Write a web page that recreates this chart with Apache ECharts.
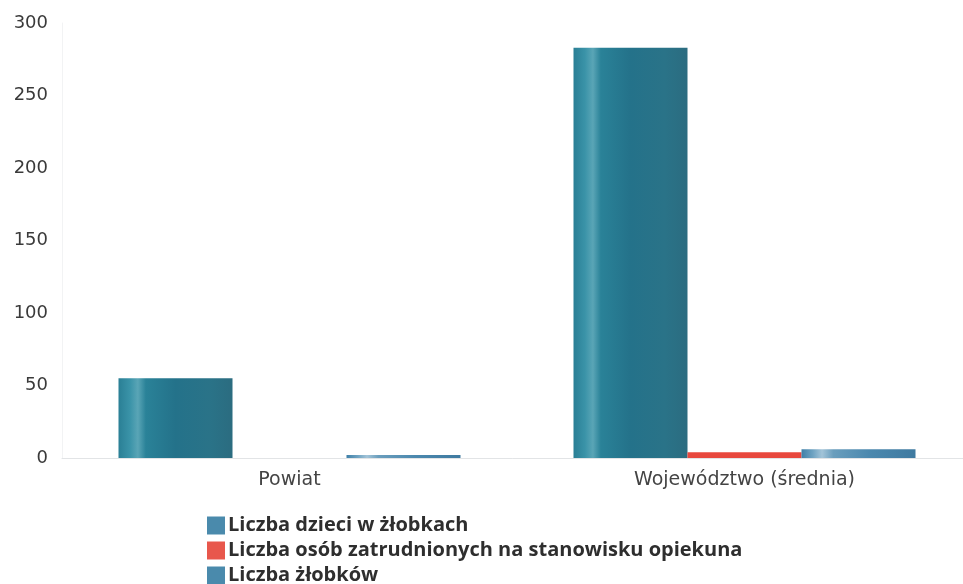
<!DOCTYPE html>
<html>
<head>
<meta charset="utf-8">
<script src="https://cdn.jsdelivr.net/npm/echarts@6/dist/echarts.min.js"></script>
<style>html,body{margin:0;padding:0;background:#fff;}#c{width:963px;height:584px;}</style>
</head>
<body>
<div id="c"></div>
<script>
var categories = ['Powiat', 'Województwo (średnia)'];
var seriesNames = ['Liczba dzieci w żłobkach', 'Liczba osób zatrudnionych na stanowisku opiekuna', 'Liczba żłobków'];
var dzieci = [55, 283];
var opiekunowie = [0, 4];
var zlobki = [2, 6];
var yTicks = [0, 50, 100, 150, 200, 250, 300];

function grad(stops) {
  return new echarts.graphic.LinearGradient(0, 0, 1, 0, stops.map(function (s) { return { offset: s[0], color: s[1] }; }));
}
var tealGrad = grad([[0, '#2a7f95'], [0.1, '#3a93a8'], [0.17, '#5aa5b6'], [0.24, '#2a8298'], [0.5, '#24728a'], [0.8, '#2a7388'], [1, '#2b6c80']]);
var blueGrad = grad([[0, '#3f80a8'], [0.1, '#6fa3c2'], [0.18, '#a3c4d8'], [0.28, '#6a9ebd'], [0.6, '#4b88ae'], [1, '#3f7aa0']]);
var redColor = '#e8483e';

var chart = echarts.init(document.getElementById('c'), null, { renderer: 'canvas' });
chart.setOption({
  animation: false,
  backgroundColor: '#ffffff',
  grid: { left: 62, width: 910, top: 23, bottom: 126, containLabel: false, outerBoundsMode: 'none' },
  legend: {
    orient: 'vertical',
    left: 202,
    top: 508,
    height: 100,
    itemWidth: 18,
    itemHeight: 18,
    itemGap: 0,
    icon: 'rect',
    textStyle: { fontFamily: 'Open Sans', fontSize: 20, fontWeight: 700, color: '#2e2e2e', lineHeight: 25, padding: [0, 0, 0, -2] },
    data: [
      { name: seriesNames[0], itemStyle: { color: '#4a8aac' } },
      { name: seriesNames[1], itemStyle: { color: '#e8574c' } },
      { name: seriesNames[2], itemStyle: { color: '#4a8aac' } }
    ]
  },
  xAxis: {
    type: 'category',
    data: categories,
    axisLine: { show: true, lineStyle: { color: '#e2e4e6', width: 1 } },
    axisTick: { show: false },
    axisLabel: { fontFamily: 'DejaVu Sans', fontSize: 19, color: '#444', margin: 13 }
  },
  yAxis: {
    type: 'value',
    min: yTicks[0],
    max: yTicks[yTicks.length - 1],
    interval: 50,
    axisLine: { show: true, lineStyle: { color: '#f2f3f4' } },
    axisTick: { show: false },
    splitLine: { show: false },
    axisLabel: { fontFamily: 'DejaVu Sans', fontSize: 18, color: '#3a3a3a', margin: 14 }
  },
  series: [
    { name: seriesNames[0], type: 'bar', data: dzieci, barWidth: 114, barGap: '0%', itemStyle: { color: tealGrad } },
    { name: seriesNames[1], type: 'bar', data: opiekunowie, barWidth: 114, barGap: '0%', itemStyle: { color: redColor } },
    { name: seriesNames[2], type: 'bar', data: zlobki, barWidth: 114, barGap: '0%', itemStyle: { color: blueGrad } }
  ]
});
</script>
</body>
</html>
